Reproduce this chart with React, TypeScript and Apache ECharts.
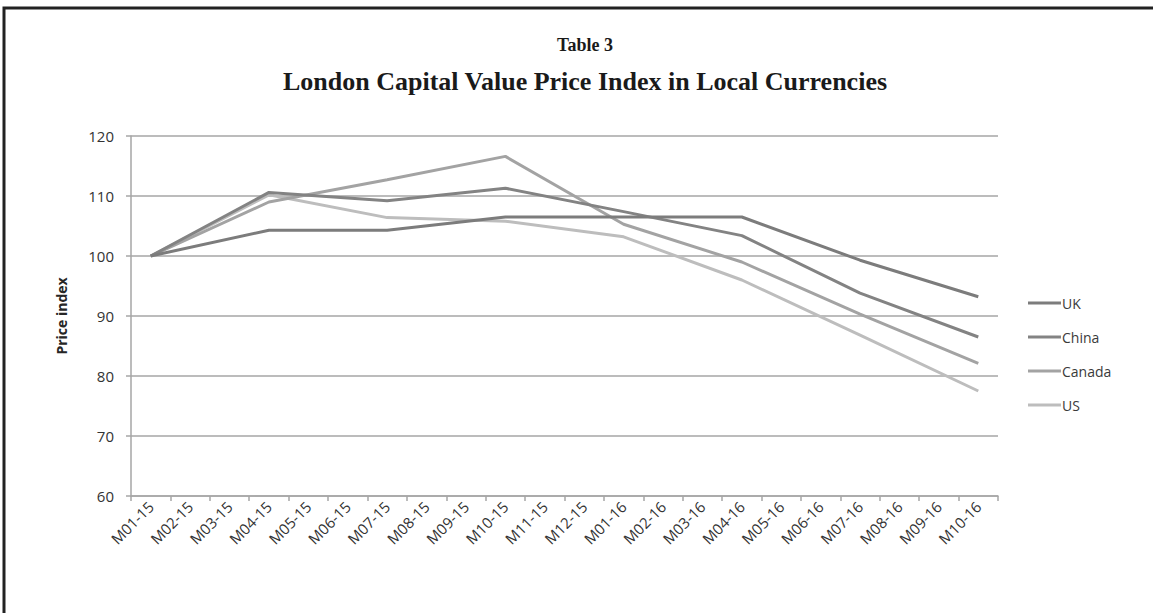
import React, { useEffect, useRef } from "react";
import * as echarts from "echarts";

const categories = [
  "M01-15", "M02-15", "M03-15", "M04-15", "M05-15", "M06-15", "M07-15", "M08-15",
  "M09-15", "M10-15", "M11-15", "M12-15", "M01-16", "M02-16", "M03-16", "M04-16",
  "M05-16", "M06-16", "M07-16", "M08-16", "M09-16", "M10-16",
];

const ukValues = [100, null, null, 104.3, null, null, 104.3, null, null, 106.5, null, null, 106.5, null, null, 106.5, null, null, 99.3, null, null, 93.2];
const chinaValues = [100, null, null, 110.6, null, null, 109.2, null, null, 111.3, null, null, 107.4, null, null, 103.4, null, null, 93.8, null, null, 86.5];
const canadaValues = [100, null, null, 109.0, null, null, 112.7, null, null, 116.6, null, null, 105.3, null, null, 99.0, null, null, 90.3, null, null, 82.1];
const usValues = [100, null, null, 110.2, null, null, 106.4, null, null, 105.8, null, null, 103.2, null, null, 96.0, null, null, 86.8, null, null, 77.5];

const seriesNames = ["UK", "China", "Canada", "US"];
const seriesColors = ["#7c7c7c", "#838383", "#a3a3a3", "#bdbdbd"];

const yTicks = { min: 60, max: 120, interval: 10 };

export default function App() {
  const ref = useRef<HTMLDivElement>(null);
  useEffect(() => {
    if (!ref.current) return;
    const chart = echarts.init(ref.current, null, { renderer: "svg" });
    const allData = [ukValues, chinaValues, canadaValues, usValues];
    const labelFont = "'Open Sans', sans-serif";
    chart.setOption({
      animation: false,
      backgroundColor: "#ffffff",
      title: [
        {
          text: "Table 3",
          left: 580,
          textAlign: "center",
          top: 31,
          textStyle: { fontFamily: "'Liberation Serif', serif", fontWeight: "bold", fontSize: 18, color: "#1a1a1a" },
        },
        {
          text: "London Capital Value Price Index in Local Currencies",
          left: 580,
          textAlign: "center",
          top: 63,
          textStyle: { fontFamily: "'Liberation Serif', serif", fontWeight: "bold", fontSize: 26, color: "#1a1a1a" },
        },
      ],
      graphic: [
        {
          type: "rect",
          shape: { x: 4, y: 8, width: 1200, height: 700 },
          style: { fill: "none", stroke: "#222222", lineWidth: 3 },
          silent: true,
        },
      ],
      legend: {
        orient: "vertical",
        left: 1023,
        top: 291,
        itemWidth: 33,
        itemHeight: 3,
        itemGap: 20,
        icon: "rect",
        data: seriesNames,
        textStyle: { fontFamily: labelFont, fontSize: 14, color: "#3a3a3a", padding: [0, 0, 0, -4] },
      },
      grid: { left: 131, right: 155, top: 136, bottom: 117 },
      xAxis: {
        type: "category",
        data: categories,
        boundaryGap: true,
        axisLine: { lineStyle: { color: "#a6a6a6", width: 1.5 } },
        axisTick: { show: true, length: 5, lineStyle: { color: "#a6a6a6", width: 1.5 } },
        axisLabel: { rotate: 45, interval: 0, fontFamily: labelFont, fontSize: 15, color: "#333333", margin: 8 },
        splitLine: { show: false },
      },
      yAxis: {
        type: "value",
        min: yTicks.min,
        max: yTicks.max,
        interval: yTicks.interval,
        name: "Price index",
        nameLocation: "middle",
        nameGap: 63,
        nameTextStyle: { fontFamily: labelFont, fontSize: 14, fontWeight: "bold", color: "#262626" },
        axisLine: { show: true, lineStyle: { color: "#a6a6a6", width: 1.5 } },
        axisTick: { show: true, length: 5, lineStyle: { color: "#a6a6a6", width: 1.5 } },
        axisLabel: { fontFamily: labelFont, fontSize: 15, color: "#333333", margin: 17 },
        splitLine: { show: true, lineStyle: { color: "#a6a6a6", width: 1.5 } },
      },
      series: seriesNames.map((name, i) => ({
        name,
        type: "line",
        data: allData[i],
        connectNulls: true,
        showSymbol: false,
        symbol: "none",
        lineStyle: { color: seriesColors[i], width: 3 },
        itemStyle: { color: seriesColors[i] },
        z: 10 - i,
      })),
    });
    return () => chart.dispose();
  }, []);
  return <div ref={ref} style={{ width: 1153, height: 613, position: "absolute", left: 0, top: 0 }} />;
}
